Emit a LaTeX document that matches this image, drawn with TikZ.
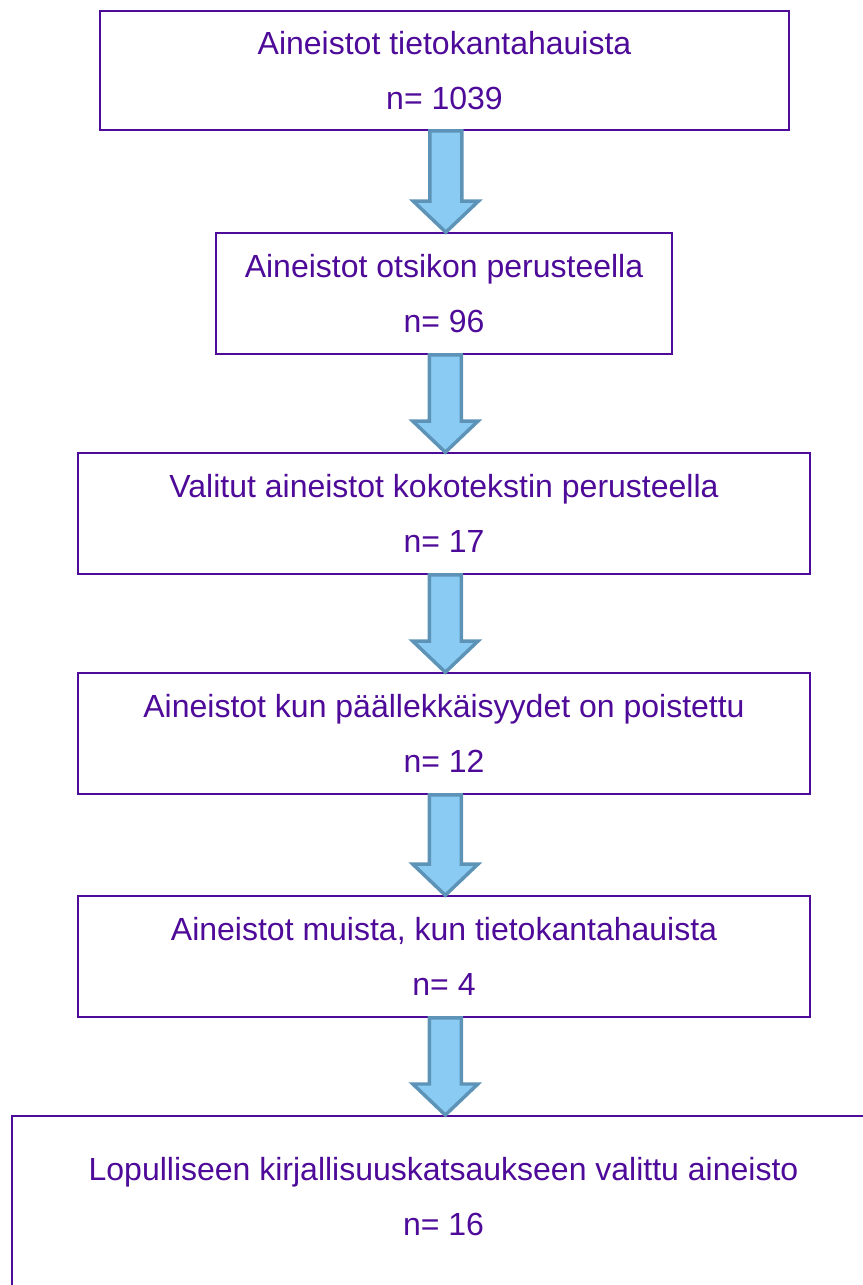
\documentclass[tikz,border=0pt]{standalone}
\usepackage{fontspec}
\setmainfont{Liberation Sans}
\usepackage{xcolor}
\usetikzlibrary{calc}
\definecolor{boxpurple}{HTML}{4E0A98}
\definecolor{arrowfill}{HTML}{89CBF2}
\definecolor{arrowline}{HTML}{5E93B8}

\begin{document}
\begin{tikzpicture}[
    x=0.75pt, y=-0.75pt,
    font=\fontsize{24}{41.25}\selectfont,
    box/.style={rectangle, draw=boxpurple, line width=1.2pt, text=boxpurple,
                fill=white, align=center, inner sep=0pt},
    blockarrow/.style={draw=arrowline, fill=arrowfill, line width=2.6pt, line join=miter}
  ]
    \useasboundingbox (0,0) rectangle (863,1285);

    \node[box, minimum width=516.75pt, minimum height=89.25pt] (search) at (444.5,70.5)
      {Aineistot tietokantahauista\\n= 1039};
    \node[box, minimum width=342pt, minimum height=90.75pt] (title) at (444,293.5)
      {Aineistot otsikon perusteella\\n= 96};
    \node[box, minimum width=549pt, minimum height=90.75pt] (fulltext) at (444,513.5)
      {Valitut aineistot kokotekstin perusteella\\n= 17};
    \node[box, minimum width=549pt, minimum height=90.75pt] (dedup) at (444,733.5)
      {Aineistot kun päällekkäisyydet on poistettu\\n= 12};
    \node[box, minimum width=549pt, minimum height=90.75pt] (other) at (444,956.5)
      {Aineistot muista, kun tietokantahauista\\n= 4};
    \node[box, anchor=north, minimum width=647.25pt, inner ysep=31pt, text depth=60pt] (final) at (443.5,1115)
      {Lopulliseen kirjallisuuskatsaukseen valittu aineisto\\n= 16};

    % block arrows between the boxes
    \foreach \from/\to in {search/title, title/fulltext, fulltext/dedup, dedup/other, other/final}
      \draw[blockarrow] let \p1=(\from.south), \p2=(\to.north) in
        (\x1+1pt-12pt,\y1) -- (\x1+1pt-12pt,\y2+23.25pt) -- (\x1+1pt-24.4pt,\y2+23.25pt)
        -- (\x1+1pt,\y2) -- (\x1+1pt+24.4pt,\y2+23.25pt) -- (\x1+1pt+12pt,\y2+23.25pt)
        -- (\x1+1pt+12pt,\y1) -- cycle;
\end{tikzpicture}
\end{document}
